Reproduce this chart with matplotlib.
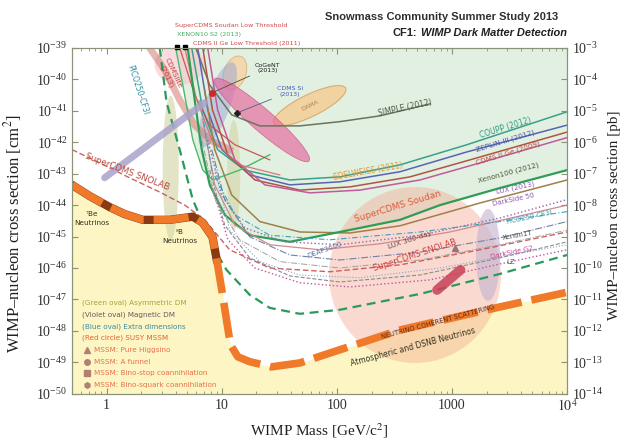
import numpy as np
import matplotlib
matplotlib.use("Agg")
import matplotlib.pyplot as plt
from matplotlib.patches import Ellipse
from matplotlib.ticker import LogLocator, NullLocator
from matplotlib.transforms import ScaledTranslation

plt.rcParams["font.family"] = ["Liberation Serif", "DejaVu Serif"]
plt.rcParams["mathtext.fontset"] = "stix"

SANS = "DejaVu Sans"
TITLE_FONT = ["Liberation Sans", "DejaVu Sans"]

# -------------------------------------------------
# Data (mass in GeV, cross section in cm^2)
# -------------------------------------------------

# neutrino floor
floor_mass = [0.50, 0.71, 1.06, 1.43, 2.06, 3.53, 5.6, 6.8, 8.3, 9.1, 10.0, 11.0,
              11.9, 13.8, 17.5, 27, 47.6, 353, 2610, 10000]
floor_sigma = [4.4e-44, 1.95e-44, 8.7e-45, 5.2e-45, 3.4e-45, 3.4e-45, 4.3e-45, 2.8e-45,
               9.8e-46, 1.6e-46, 2.0e-47, 2.2e-48, 3.6e-49, 1.5e-49, 1.05e-49, 7.2e-50,
               9.6e-50, 1.07e-48, 5.8e-48, 1.7e-47]

# current limits
xenon100_mass = [5.06, 5.82, 6.7, 7.86, 10.6, 17.5, 39, 106, 353, 786, 2610, 10000]
xenon100_sigma = [1e-39, 2.2e-41, 5.8e-43, 4.4e-44, 4.9e-45, 1.1e-45, 6.8e-46, 1.4e-45,
                  3.4e-45, 1.0e-44, 3.5e-44, 1.3e-43]

coupp_mass = [5.48, 6.84, 9.2, 15.8, 39, 106, 353, 1344, 10000]
coupp_sigma = [1e-39, 1.07e-41, 5.8e-43, 1.3e-43, 6.3e-44, 7.9e-44, 1.9e-43, 8.3e-43, 9.3e-42]

zeplin_mass = [6.18, 7.55, 10, 17.5, 39, 106, 353, 1344, 10000]
zeplin_sigma = [1e-39, 1.07e-41, 5.8e-43, 9.1e-44, 4.4e-44, 5.5e-44, 1.15e-43, 4.9e-43, 3.5e-42]

cdms_ge_mass = [6.84, 8.3, 11.3, 19.4, 47.6, 130, 431, 1435, 10000]
cdms_ge_sigma = [1e-39, 1.07e-41, 4.0e-43, 6.3e-44, 3.0e-44, 3.8e-44, 7.9e-44, 2.75e-43, 2.1e-42]

edelweiss_mass = [7.55, 9.2, 13, 23.7, 58.2, 158, 527, 1750, 10000]
edelweiss_sigma = [1e-39, 1.07e-41, 2.75e-43, 4.4e-44, 2.45e-44, 3.0e-44, 6.3e-44, 2.2e-43, 1.4e-42]

simple_mass = [5.95, 7.86, 12.2, 21.4, 47.6, 106, 237, 643]
simple_sigma = [1e-39, 6.6e-41, 7.4e-42, 3.3e-42, 3.3e-42, 4.5e-42, 6.9e-42, 1.66e-41]

xenon10_mass = [3.98, 4.67, 5.6, 6.84, 8.3, 14.3, 26.1]
xenon10_sigma = [1e-39, 4.6e-41, 1.2e-42, 1.3e-43, 6.3e-44, 1.3e-43, 4.0e-43]

cdms_lt_mass = [4.31, 5.82, 7.86, 13, 26.1]
cdms_lt_sigma = [1e-39, 3.2e-41, 3.5e-42, 8.3e-43, 2.75e-43]

soudan_lt_mass = [4.77, 6.06, 8.19, 14.3, 31.9]
soudan_lt_sigma = [1e-39, 2.2e-41, 1.2e-42, 1.9e-43, 9.1e-44]

cdmslite_mass = [2.36, 3.19, 4.31, 5.82, 7.86, 11.7]
cdmslite_sigma = [1e-39, 2.0e-40, 2.2e-41, 3.5e-42, 1.2e-42, 5.8e-43]

# projections
soudan_mass = [7.1, 8.69, 12.2, 21.4, 47.6, 130, 353, 1750, 10000]
soudan_sigma = [4.6e-41, 5.8e-43, 2.1e-44, 3.0e-45, 1.4e-45, 1.3e-45, 2.2e-45, 1.17e-44, 6.3e-44]

lux300_mass = [6.84, 8.69, 13, 26.1, 71.1, 237, 960, 10000]
lux300_sigma = [5.1e-42, 4.4e-44, 2.3e-45, 5.5e-46, 3.8e-46, 5.9e-46, 1.4e-45, 1.0e-44]

snolab_mass = [0.50, 0.87, 1.58, 2.89, 4.77, 7.11, 11.7, 26.1, 86.8, 353, 1750, 10000]
snolab_sigma = [5.8e-43, 2.2e-43, 7.4e-44, 2.6e-44, 1.0e-44, 3.4e-45, 3.8e-46, 1.0e-46,
                7.6e-47, 1.26e-46, 3.8e-46, 1.4e-45]

deap_mass = [8.19, 10.6, 17.5, 39, 106, 527, 2610, 10000]
deap_sigma = [5.8e-43, 1.5e-44, 9.8e-46, 2.6e-46, 1.8e-46, 3.2e-46, 9.1e-46, 3.0e-45]

ds50_mass = [7.55, 10, 15.8, 35.3, 106, 527, 2610, 10000]
ds50_sigma = [1.2e-42, 2.1e-44, 1.9e-45, 6.8e-46, 5.5e-46, 1.1e-45, 3.9e-45, 1.5e-44]

pico_mass = [6.44, 8.19, 13, 26.1, 86.8, 527, 2610, 10000]
pico_sigma = [2.2e-41, 1.3e-43, 4.9e-45, 1.1e-45, 7.9e-46, 1.4e-45, 3.0e-45, 6.2e-45]

xenon1t_mass = [7.86, 10.6, 17.5, 39, 106, 527, 2610, 10000]
xenon1t_sigma = [1.3e-43, 2.3e-45, 2.1e-46, 5.6e-47, 3.6e-47, 6.0e-47, 2.1e-46, 6.8e-46]

dsg2_mass = [8.19, 11.3, 19.4, 47.6, 130, 643, 2610, 10000]
dsg2_sigma = [4.4e-44, 7.9e-46, 1.0e-46, 3.4e-47, 2.5e-47, 4.2e-47, 1.35e-46, 3.8e-46]

lz_mass = [2.89, 3.32, 4.31, 5.6, 7.11, 8.69, 11.0, 17.5, 26.1, 47.6, 106, 527, 2610, 10000]
lz_sigma = [1e-39, 1.8e-41, 5.8e-43, 1.5e-44, 1.9e-45, 3.8e-46, 8.7e-47, 1.4e-47, 5.4e-48,
            3.5e-48, 4.7e-48, 1.5e-47, 6.5e-47, 2.6e-46]

proj_a_mass = [6.44, 8.69, 14.3, 31.9, 106, 527, 2610, 10000]
proj_a_sigma = [2.45e-42, 1.5e-44, 7.9e-46, 1.6e-46, 1.0e-46, 1.8e-46, 5.5e-46, 1.6e-45]

proj_b_mass = [8.69, 11.7, 21.4, 47.6, 158, 786, 10000]
proj_b_sigma = [1.3e-43, 1.6e-45, 1.6e-46, 6.0e-47, 4.9e-47, 1.0e-46, 5.5e-46]

# theory / signal regions: centre mass, centre sigma
mssm_circle = (477, 6.0e-47)
magnetic_oval = (2056, 2.6e-46)
asym_ovals = [(3.6, 1.5e-43), (12.7, 9.1e-44)]
dama_regions = [(58, 1.45e-41), (13, 1.6e-40)]
cresst_region = (22.3, 5.1e-42)
cdms_si_region = (9.2, 1.55e-41)
cdmssi_top = (4.3, 2.9e-40)

cogent_point = (8.19, 3.7e-41)
cdms_si_point = (13.5, 8.5e-42)
higgsino_point = (1065, 4.4e-46)
bino_band_mass = [741, 1185]
bino_band_sigma = [2.0e-47, 8.7e-47]
pointer_mass = [0.96, 7.1]
pointer_sigma = [7.4e-44, 1.8e-41]
low_threshold_mass = [4.06, 4.77]
low_threshold_sigma = [1.05e-39, 1.05e-39]

legend_lines = [
    ("(Green oval) Asymmetric DM", "#9aa83a", None),
    ("(Violet oval) Magnetic DM", "#6a5860", None),
    ("(Blue oval) Extra dimensions", "#3f8aa0", None),
    ("(Red circle) SUSY MSSM", "#e0622e", None),
    ("MSSM: Pure Higgsino", "#e8704a", "^"),
    ("MSSM: A funnel", "#e8704a", "o"),
    ("MSSM: Bino-stop coannihilation", "#e8704a", "s"),
    ("MSSM: Bino-squark coannihilation", "#e8704a", "h"),
]

# -------------------------------------------------
# Figure
# -------------------------------------------------

fig = plt.figure(figsize=(6.26, 4.43), dpi=100)
ax = fig.add_axes([0.115, 0.111, 0.791, 0.781])
ax.set_xscale("log")
ax.set_yscale("log")
ax.set_xlim(0.5, 1e4)
ax.set_ylim(1e-50, 1e-39)

# excluded region: above the envelope of current limits
current = [(xenon100_mass, xenon100_sigma), (coupp_mass, coupp_sigma),
           (zeplin_mass, zeplin_sigma), (cdms_ge_mass, cdms_ge_sigma),
           (edelweiss_mass, edelweiss_sigma), (simple_mass, simple_sigma),
           (xenon10_mass, xenon10_sigma)]
grid = np.logspace(np.log10(0.5), 4, 600)
env = np.full(grid.shape, -39.0)
for m, s in current:
    v = np.interp(np.log10(grid), np.log10(m), np.log10(s), left=np.nan, right=np.nan)
    env = np.fmin(env, v)
ax.fill_between(grid, 10 ** env, 1e-39, color="#e1f0e1", lw=0, zorder=0)

# neutrino background region
ax.fill_between(floor_mass, 1e-50, floor_sigma, color="#fdf6c4", lw=0, zorder=0.5)


def blob(center, w, h, angle, **kw):
    tr = fig.dpi_scale_trans + ScaledTranslation(center[0], center[1], ax.transData)
    ax.add_patch(Ellipse((0, 0), w, h, angle=angle, transform=tr, **kw))


blob(mssm_circle, 1.72, 1.76, 0, facecolor="#f4a890", alpha=0.42, lw=0, zorder=1)
blob(magnetic_oval, 0.24, 0.92, 0, facecolor="#c4b2d0", alpha=0.6, lw=0, zorder=1.1)
blob(asym_ovals[0], 0.16, 1.45, 0, facecolor="#d6d9ad", alpha=0.7, lw=0, zorder=1)
blob(asym_ovals[1], 0.13, 1.1, 0, facecolor="#d6d9ad", alpha=0.7, lw=0, zorder=1)
blob(cdmssi_top, 0.5, 0.4, 0, facecolor="#f6c4cc", alpha=0.6, lw=0, zorder=1)
blob(dama_regions[0], 0.8, 0.22, 26, facecolor="#f3cf9a", edgecolor="#d8a868",
     alpha=0.9, lw=0.8, zorder=1.2)
blob(dama_regions[1], 0.22, 0.35, -20, facecolor="#f3d6a8", edgecolor="#d8b078",
     alpha=0.9, lw=0.6, zorder=1.2)
blob(cdms_si_region, 0.25, 0.9, -20, facecolor="#8fa0d8", alpha=0.45, lw=0, zorder=1.3)
blob(cresst_region, 1.25, 0.22, -41, facecolor="#e8649c", edgecolor="#c84a80",
     alpha=0.65, lw=0.6, zorder=1.4)

# curves
curve_styles = [
    (cdmslite_mass, cdmslite_sigma, "#d47a70", "-", 5, 0.55),
    (simple_mass, simple_sigma, "#6c7460", "-", 1.1, 1),
    (coupp_mass, coupp_sigma, "#3aa08a", "-", 1.1, 1),
    (zeplin_mass, zeplin_sigma, "#5a64b4", "-", 1.1, 1),
    (cdms_ge_mass, cdms_ge_sigma, "#b25444", "-", 1.1, 1),
    (edelweiss_mass, edelweiss_sigma, "#c05a9a", "-", 1.1, 1),
    (xenon10_mass, xenon10_sigma, "#4cb86a", "-", 1.0, 1),
    (cdms_lt_mass, cdms_lt_sigma, "#c84848", "-", 0.9, 0.9),
    (soudan_lt_mass, soudan_lt_sigma, "#d86a6a", "-", 0.9, 0.9),
    (soudan_mass, soudan_sigma, "#a08048", "-", 1.1, 1),
    (xenon100_mass, xenon100_sigma, "#2f9e55", "-", 1.6, 1),
    (lux300_mass, lux300_sigma, "#d08a8a", "-", 0.9, 1),
    (snolab_mass, snolab_sigma, "#c85050", (0, (4, 2)), 1.0, 0.9),
    (deap_mass, deap_sigma, "#7080a8", "-.", 0.8, 1),
    (ds50_mass, ds50_sigma, "#9464b4", ":", 1.0, 1),
    (pico_mass, pico_sigma, "#40a0b8", (0, (5, 2, 1, 2)), 0.8, 1),
    (xenon1t_mass, xenon1t_sigma, "#8c8c8c", "--", 0.8, 1),
    (dsg2_mass, dsg2_sigma, "#c454a4", ":", 1.0, 1),
    (proj_a_mass, proj_a_sigma, "#a0a0a0", "-.", 0.7, 1),
    (proj_b_mass, proj_b_sigma, "#8ea0c8", ":", 0.8, 1),
    (lz_mass, lz_sigma, "#2a9a5a", (0, (4, 2.5)), 1.6, 1),
]
for m, s, c, ls, lw, a in curve_styles:
    ax.plot(m, s, color=c, ls=ls, lw=lw, alpha=a, zorder=2)

# neutrino floor
floor_mass_arr = np.array(floor_mass)
left = floor_mass_arr <= 9.1
ax.plot(floor_mass_arr[left], np.array(floor_sigma)[left], color="#8a3a12", lw=6,
        solid_capstyle="round", zorder=3)
ax.plot(floor_mass, floor_sigma, color="#f07a2a", lw=5.5, ls=(0, (4.6, 1.3)), zorder=3.1)

# points and pointers
ax.plot(pointer_mass, pointer_sigma, color="#aaa2cc", lw=5, alpha=0.85,
        solid_capstyle="round", zorder=2.5)
ax.plot(*cogent_point, "o", color="#d02a20", ms=4, zorder=4)
ax.plot(*higgsino_point, "^", color="#a07078", ms=5, zorder=4)
ax.plot(bino_band_mass, bino_band_sigma, color="#c84058", lw=7, alpha=0.85,
        solid_capstyle="round", zorder=4)
ax.plot(low_threshold_mass, low_threshold_sigma, "s", color="black", ms=3.5,
        clip_on=False, zorder=5)

# -------------------------------------------------
# Labels on the plot
# -------------------------------------------------


def label(m, s, txt, color, size=5.5, rot=0, **kw):
    ax.text(m, s, txt, color=color, fontsize=size, rotation=rot, family=SANS,
            ha="center", va="center", rotation_mode="anchor", zorder=6, **kw)


label(390, 1.23e-41, "SIMPLE (2012)", "#505848", 5.5, 12)
label(2890, 2.9e-42, "COUPP (2012)", "#2f9a80", 5.5, 17)
label(2890, 1.1e-42, "ZEPLIN-III (2012)", "#4a54a8", 5.2, 17)
label(3090, 4.6e-43, "CDMS II Ge (2009)", "#b84c3c", 5.2, 17)
label(186, 1.15e-43, "EDELWEISS (2011)", "#e09a38", 5.5, 10)
label(3090, 1.07e-43, "Xenon100 (2012)", "#4a5a30", 5.2, 15)
label(3530, 3.5e-44, "LUX (2013)", "#8a5ab0", 5.0, 12)
label(3400, 1.5e-44, "DarkSide 50", "#8a5ab0", 5.0, 12)
label(4700, 4.3e-45, "PICO250-CF3I", "#3a98b0", 5.0, 12)
label(3740, 1.1e-45, "Xenon1T", "#505050", 5.0, 10)
label(3300, 3.2e-46, "DarkSide G2", "#c04898", 5.0, 12)
label(3250, 1.5e-46, "LZ", "#2a7a4a", 5.0, 0)
label(339, 8.7e-45, "SuperCDMS Soudan", "#e05a3a", 6.5, 17)
label(431, 7.9e-46, "LUX 300-day", "#704848", 5.2, 18)
label(477, 2.6e-46, "SuperCDMS SNOLAB", "#d03c3c", 6.0, 18)
label(78.7, 3.8e-46, "DEAP3600", "#6070a0", 5.0, 20)
label(1.52, 1.15e-43, "SuperCDMS SNOLAB", "#b8483c", 6.2, -21)
label(1.86, 4.6e-41, "PICO250-CF3I", "#2f8fa0", 5.5, -72)
label(3.53, 1.4e-40, "CDMSlite\n(2013)", "#b8483c", 5.2, -65)
label(58, 1.45e-41, "DAMA", "#b08050", 4.5, 26)
label(0.74, 3.9e-45, "$^7$Be\nNeutrinos", "#303020", 5.2, 0)
label(4.3, 1.05e-45, "$^8$B\nNeutrinos", "#303020", 5.2, 0)
label(460, 3.1e-49, "Atmospheric and DSNB Neutrinos", "#303020", 5.5, 15)
label(755, 1.95e-48, "NEUTRINO COHERENT SCATTERING", "#5a2a10", 4.8, 15)

ax.annotate("CoGeNT\n(2013)", xy=cogent_point, xytext=(25.1, 2.3e-40), fontsize=4.5,
            family=SANS, color="#202020", ha="center", va="center", zorder=6,
            arrowprops=dict(arrowstyle="-", color="#505030", lw=0.6))
ax.annotate("CDMS Si\n(2013)", xy=cdms_si_point, xytext=(39, 4.0e-41), fontsize=4.5,
            family=SANS, color="#4a5ab0", ha="center", va="center", zorder=6,
            arrowprops=dict(arrowstyle="-", color="#506080", lw=0.6))
ax.plot(*cdms_si_point, "D", color="#202020", ms=3, zorder=5)

# labels above the frame
ax.text(0.208, 1.066, "SuperCDMS Soudan Low Threshold", transform=ax.transAxes,
        fontsize=4.6, color="#d04a4a", family=SANS, va="center")
ax.text(0.212, 1.038, "XENON10 S2 (2013)", transform=ax.transAxes,
        fontsize=4.6, color="#40b060", family=SANS, va="center")
ax.text(0.245, 1.012, "CDMS II Ge Low Threshold (2011)", transform=ax.transAxes,
        fontsize=4.6, color="#d04a4a", family=SANS, va="center")

# legend block
for i, (txt, col, mk) in enumerate(legend_lines):
    y = 0.263 - i * 0.034
    if mk is None:
        ax.text(0.02, y, txt, transform=ax.transAxes, fontsize=5.2, color=col,
                family=SANS, va="center", zorder=6)
    else:
        ax.plot([0.031], [y], marker=mk, color="#b08070", ms=4, transform=ax.transAxes,
                zorder=6)
        ax.text(0.044, y, txt, transform=ax.transAxes, fontsize=5.2, color=col,
                family=SANS, va="center", zorder=6)

# -------------------------------------------------
# Axes styling
# -------------------------------------------------

frame = "#8a9278"
for sp in ax.spines.values():
    sp.set_color(frame)

ax.set_xticks([1, 10, 100, 1000, 1e4], labels=["1", "10", "100", "1000", "$10^4$"])
ax.yaxis.set_major_locator(LogLocator(base=10, numticks=20))
ax.yaxis.set_minor_locator(NullLocator())
ax.tick_params(which="both", direction="in", colors=frame, labelcolor="#303030",
               top=True, labelsize=10)
ax.tick_params(which="major", length=4)
ax.tick_params(which="minor", length=2)

ax2 = ax.twinx()
ax2.set_yscale("log")
ax2.set_ylim(1e-14, 1e-3)
ax2.yaxis.set_major_locator(LogLocator(base=10, numticks=20))
ax2.yaxis.set_minor_locator(NullLocator())
ax2.tick_params(direction="in", colors=frame, labelcolor="#303030", labelsize=10, length=4)
for sp in ax2.spines.values():
    sp.set_color(frame)

ax.set_xlabel("WIMP Mass [GeV/c$^2$]", fontsize=11, color="#202020", labelpad=5)
ax.set_ylabel("WIMP\u2013nucleon cross section [cm$^2$]", fontsize=12, color="#202020")
ax.yaxis.set_label_coords(-0.097, 0.462)
ax2.set_ylabel("WIMP\u2013nucleon cross section [pb]", fontsize=11, color="#202020")
ax2.yaxis.set_label_coords(1.083, 0.517)

# title block, top right: font sizes fitted to the widths seen in the reference
renderer = fig.canvas.get_renderer()


def fit_text(x, y, txt, width_frac, **kw):
    t = fig.text(x, y, txt, fontsize=10, **kw)
    w = t.get_window_extent(renderer).width / fig.bbox.width
    t.set_fontsize(10 * width_frac / w)
    return t


fit_text(0.891, 0.962, "Snowmass Community Summer Study 2013", 0.369,
         family=TITLE_FONT, color="#303030", ha="right", va="center", weight="bold")
sub = fit_text(0.905, 0.925, "WIMP Dark Matter Detection", 0.235,
               family=TITLE_FONT, color="#202020", ha="right", va="center",
               weight="bold", style="italic")
sub_left = sub.get_window_extent(renderer).x0 / fig.bbox.width
fig.text(sub_left - 0.006, 0.925, "CF1:", fontsize=sub.get_fontsize(), family=TITLE_FONT,
         color="#202020", ha="right", va="center", weight="bold")

fig.savefig("out.png", dpi=100)
